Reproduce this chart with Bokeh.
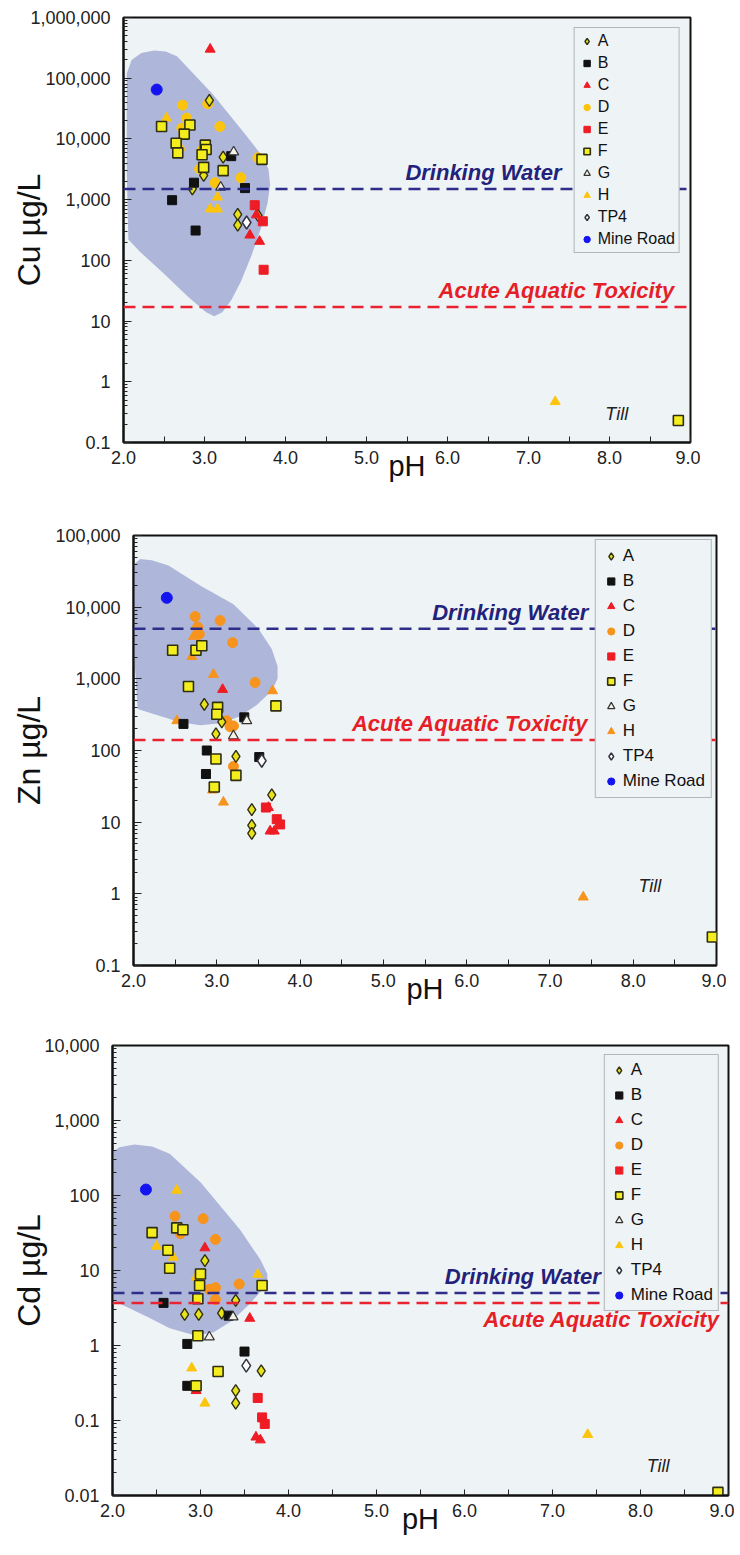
import numpy as np
from bokeh.plotting import figure
from bokeh.models import (FixedTicker, NumeralTickFormatter, CustomJSTickFormatter,
                          Span, Legend, LegendItem, Label)
from bokeh.layouts import column
from bokeh.embed import file_html
from bokeh.resources import INLINE
from bokeh.core.properties import value

FONT = "Liberation Sans"
BG = "#eef3f6"
ENV = "#aeb7da"
SERIES = ["A", "B", "C", "D", "E", "F", "G", "H", "TP4", "Mine Road"]
X_TICKS = [2.0, 2.5, 3.0, 3.5, 4.0, 4.5, 5.0, 5.5, 6.0, 6.5, 7.0, 7.5, 8.0, 8.5, 9.0]

# ---------------- Cu (µg/L) ----------------
cu_ph_A = [3.06, 2.99, 3.23, 2.85, 3.41, 3.41, 3.66]
cu_A = [43000, 2500, 5000, 1500, 570, 380, 550]
cu_ph_B = [3.33, 2.87, 3.50, 2.60, 2.89]
cu_B = [5200, 1900, 1550, 980, 310]
cu_ph_C = [3.07, 3.56, 3.68, 3.64]
cu_C = [300000, 260, 205, 560]
cu_ph_D = [3.04, 2.73, 2.78, 2.72, 3.19, 2.69, 2.97, 2.94, 3.13, 3.45, 3.66]
cu_D = [38000, 36000, 22000, 15000, 16000, 6800, 6500, 3200, 1900, 2300, 4900]
cu_ph_E = [3.62, 3.72, 3.73]
cu_E = [810, 440, 70]
cu_ph_F = [2.47, 2.82, 2.75, 2.65, 2.67, 3.01, 3.02, 2.97, 2.99, 3.23, 3.71, 8.85]
cu_F = [16000, 17000, 12000, 8500, 5900, 7900, 6700, 5500, 3400, 3000, 4600, 0.23]
cu_ph_G = [3.36, 3.20]
cu_G = [6100, 1600]
cu_ph_H = [2.53, 3.16, 3.07, 3.16, 7.33]
cu_H = [22000, 1100, 700, 700, 0.47]
cu_ph_TP4 = [3.52]
cu_TP4 = [420]
cu_ph_MR = [2.41]
cu_MR = [65000]
cu_env_ph = [2.04, 2.10, 2.22, 2.38, 2.52, 2.66, 3.10, 3.50, 3.70, 3.79, 3.81, 3.78,
             3.70, 3.58, 3.45, 3.33, 3.22, 3.12, 3.02, 2.80, 2.50, 2.20, 2.06, 2.04]
cu_env = [120000, 200000, 260000, 285000, 275000, 230000, 55000, 12000, 5500, 3200, 1800, 900,
          350, 120, 45, 22, 14, 12, 14, 25, 60, 140, 220, 3000]
cu_drinking = 1500
cu_acute = 17

# ---------------- Zn (µg/L) ----------------
zn_ph_A = [2.85, 3.06, 2.99, 3.23, 3.66, 3.42, 3.42, 3.42]
zn_A = [440, 250, 170, 83, 24, 15, 9, 7]
zn_ph_B = [2.60, 3.33, 2.88, 3.51, 2.87]
zn_B = [235, 290, 100, 81, 47]
zn_ph_C = [3.07, 3.62, 3.64, 3.69]
zn_C = [710, 16, 7.5, 7.5]
zn_ph_D = [2.74, 3.04, 2.77, 2.79, 3.19, 3.46, 3.12, 3.16, 3.20, 3.20]
zn_D = [7400, 6500, 5300, 4200, 3200, 890, 260, 215, 220, 60]
zn_ph_E = [3.59, 3.72, 3.76]
zn_E = [16, 11, 9.3]
zn_ph_F = [2.47, 2.75, 2.82, 2.66, 3.01, 3.00, 3.71, 2.99, 3.23, 2.97, 8.95]
zn_F = [2500, 2500, 2900, 780, 400, 320, 420, 76, 45, 31, 0.25]
zn_ph_G = [3.36, 3.20]
zn_G = [260, 160]
zn_ph_H = [2.72, 2.70, 2.96, 3.67, 2.52, 2.95, 3.08, 7.40]
zn_H = [3900, 2050, 1150, 680, 260, 28, 19, 0.9]
zn_ph_TP4 = [3.54]
zn_TP4 = [72]
zn_ph_MR = [2.40]
zn_MR = [13500]
zn_env_ph = [2.01, 2.08, 2.22, 2.42, 2.80, 3.20, 3.50, 3.66, 3.73, 3.73, 3.66, 3.48,
             3.28, 3.05, 2.80, 2.55, 2.25, 2.05, 2.01]
zn_env = [40000, 47000, 45000, 38000, 20000, 11000, 5000, 2600, 1500, 1000, 680, 430,
          300, 240, 225, 250, 320, 380, 2000]
zn_drinking = 5000
zn_acute = 140

# ---------------- Cd (µg/L) ----------------
cd_ph_A = [3.05, 3.40, 3.24, 2.82, 2.98, 3.69, 3.40, 3.40]
cd_A = [13.5, 4.0, 2.7, 2.6, 2.6, 0.46, 0.25, 0.17]
cd_ph_B = [2.58, 3.32, 2.85, 2.85, 3.50]
cd_B = [3.7, 2.5, 1.05, 0.29, 0.83]
cd_ph_C = [3.05, 3.56, 2.95, 3.63, 3.68]
cd_C = [20, 2.3, 0.25, 0.06, 0.055]
cd_ph_D = [2.71, 3.03, 2.77, 3.17, 3.10, 3.17, 3.44, 3.17]
cd_D = [53, 49, 31, 26, 5.6, 5.9, 6.6, 4.1]
cd_ph_E = [3.65, 3.70, 3.73]
cd_E = [0.20, 0.11, 0.09]
cd_ph_F = [2.45, 2.73, 2.80, 2.63, 2.65, 3.00, 2.99, 3.70, 2.97, 2.97, 3.20, 2.95, 8.88]
cd_F = [32, 37, 35, 18.6, 10.7, 9.0, 6.3, 6.3, 4.2, 1.35, 0.45, 0.29, 0.011]
cd_ph_G = [3.37, 3.10]
cd_G = [2.4, 1.3]
cd_ph_H = [2.73, 2.50, 2.69, 2.95, 3.65, 2.90, 3.05, 7.40]
cd_H = [117, 21, 15, 8.1, 8.9, 0.5, 0.17, 0.065]
cd_ph_TP4 = [3.52]
cd_TP4 = [0.54]
cd_ph_MR = [2.38]
cd_MR = [120]
cd_env_ph = [2.0, 2.08, 2.25, 2.45, 2.65, 3.0, 3.45, 3.68, 3.76, 3.76, 3.70, 3.55,
             3.35, 3.15, 2.95, 2.65, 2.40, 2.15, 2.0]
cd_env = [380, 440, 480, 450, 360, 150, 35, 14, 9, 7, 5.5, 3.5,
          2.1, 1.5, 1.35, 1.7, 2.4, 3.3, 4.0]
cd_drinking = 5
cd_acute = 3.7

GOLD = "#fcc50c"
ORANGE = "#f7941d"


def styles(d_col, h_col):
    return {
        "A": dict(marker="diamond", fill_color="#e8e21a", line_color="#30300f", size=12, line_width=1.4),
        "B": dict(marker="square", fill_color="#111111", line_color="#111111", size=9, line_width=1),
        "C": dict(marker="triangle", fill_color="#ee1c24", line_color="#ee1c24", size=10, line_width=1),
        "D": dict(marker="circle", fill_color=d_col, line_color=d_col, size=10, line_width=1),
        "E": dict(marker="square", fill_color="#ee1c24", line_color="#ee1c24", size=9, line_width=1),
        "F": dict(marker="square", fill_color="#f4ee1e", line_color="#2e2e12", size=10, line_width=1.6),
        "G": dict(marker="triangle", fill_color="#f3f3ea", line_color="#333333", size=10, line_width=1.2),
        "H": dict(marker="triangle", fill_color=h_col, line_color=h_col, size=10, line_width=1),
        "TP4": dict(marker="diamond", fill_color="#ffffff", line_color="#333340", size=13, line_width=1.5),
        "Mine Road": dict(marker="circle", fill_color="#1414f0", line_color="#1414f0", size=11, line_width=1),
    }


def panel(cfg):
    p = figure(frame_width=cfg["fw"], frame_height=cfg["fh"], x_range=(2, 9),
               y_range=(cfg["ylo"], cfg["yhi"]), y_axis_type="log",
               output_backend="svg", toolbar_location=None,
               min_border_left=cfg["bl"], min_border_right=cfg["br"],
               min_border_top=cfg["bt"], min_border_bottom=cfg["bb"],
               background_fill_color=BG, border_fill_color="white",
               outline_line_color="#111111", outline_line_width=2)
    p.frame_align = False
    p.grid.visible = False

    # axes
    p.xaxis.ticker = FixedTicker(ticks=X_TICKS)
    p.xaxis.formatter = CustomJSTickFormatter(
        code="return (Math.abs(tick - Math.round(tick)) < 1e-6) ? tick.toFixed(1) : '';")
    lo_e = int(round(np.log10(cfg["ylo"])))
    hi_e = int(round(np.log10(cfg["yhi"])))
    decades = [10.0 ** k for k in range(lo_e, hi_e + 1)]
    minors = [m * 10.0 ** k for k in range(lo_e, hi_e) for m in range(2, 10)]
    p.yaxis.ticker = FixedTicker(ticks=decades, minor_ticks=minors)
    p.yaxis.formatter = NumeralTickFormatter(format="0,0.[00]")
    for ax in (p.xaxis[0], p.yaxis[0]):
        ax.axis_line_color = "#111111"
        ax.axis_line_width = 2
        ax.major_tick_line_color = "#222222"
        ax.minor_tick_line_color = "#222222"
        ax.major_tick_out = 0
        ax.minor_tick_out = 0
        ax.major_label_text_font = FONT
        ax.major_label_text_font_size = "18px"
        ax.major_label_text_color = "#222222"
        ax.axis_label_text_font = FONT
        ax.axis_label_text_font_style = "normal"
        ax.axis_label_text_color = "#111111"
    p.xaxis.major_tick_in = 6
    p.xaxis.minor_tick_in = 0
    p.yaxis.major_tick_in = 8
    p.yaxis.minor_tick_in = 4
    p.xaxis.major_label_standoff = 8
    p.yaxis.major_label_standoff = 13
    p.xaxis.axis_label = "pH"
    p.xaxis.axis_label_text_font_size = "29px"
    p.xaxis.axis_label_standoff = -17
    p.yaxis.axis_label = cfg["ylabel"]
    p.yaxis.axis_label_text_font_size = "32px"
    p.yaxis.axis_label_standoff = cfg["ylab_standoff"]

    # envelope
    p.patch(cfg["env_x"], cfg["env_y"], fill_color=ENV, fill_alpha=1.0, line_color=None)

    # guideline lines
    p.add_layout(Span(location=cfg["dw"], dimension="width", line_color="#2e2e8a",
                      line_dash="12 7", line_width=2.5))
    p.add_layout(Span(location=cfg["acute"], dimension="width", line_color="#ea2330",
                      line_dash="12 7", line_width=2.5))

    # points
    st = styles(cfg["d_col"], cfg["h_col"])
    rends = {}
    order = ["D", "H", "A", "B", "C", "E", "F", "G", "TP4", "Mine Road"]
    for name in order:
        xs, ys = cfg["data"][name]
        rends[name] = p.scatter(xs, ys, **st[name])

    p.text(x=[cfg["till"][0]], y=[cfg["till"][1]], text=["Till"], text_color="#222222",
           text_font=value(FONT), text_font_size="18px", text_font_style="italic",
           text_align="center", text_baseline="middle")

    legend = Legend(items=[LegendItem(label=n, renderers=[rends[n]]) for n in SERIES],
                    location="top_right", margin=cfg["lmargin"], padding=cfg["lpad"],
                    spacing=cfg["lspacing"], glyph_width=cfg["lglyph"], glyph_height=18,
                    label_height=18, label_standoff=3,
                    label_text_font=FONT, label_text_font_size=cfg["lfont"],
                    label_text_color="#111111",
                    border_line_color="#7a7a7a", border_line_width=1.5,
                    background_fill_color=BG, background_fill_alpha=1.0)
    p.add_layout(legend)

    # guideline labels
    for (tx, ty, txt, col, align, base, yoff) in cfg["texts"]:
        p.add_layout(Label(x=tx, y=ty, x_units="data", y_units="data", text=txt,
                           text_color=col, text_font=FONT, text_font_size="22px",
                           text_font_style="bold italic", text_align=align,
                           text_baseline=base, y_offset=yoff))
    return p


cfg_cu = dict(
    fw=567, fh=425, bl=123, br=10, bt=17, bb=55, ylo=0.1, yhi=1e6,
    ylabel="Cu µg/L", ylab_standoff=-20,
    env_x=cu_env_ph, env_y=cu_env, dw=cu_drinking, acute=cu_acute,
    texts=[(5.48, cu_drinking, "Drinking Water", "#22227a", "left", "bottom", 4),
           (5.89, cu_acute, "Acute Aquatic Toxicity", "#e61e28", "left", "bottom", 4)],
    till=(8.09, 0.3), d_col=GOLD, h_col=GOLD,
    data={"A": (cu_ph_A, cu_A), "B": (cu_ph_B, cu_B), "C": (cu_ph_C, cu_C),
          "D": (cu_ph_D, cu_D), "E": (cu_ph_E, cu_E), "F": (cu_ph_F, cu_F),
          "G": (cu_ph_G, cu_G), "H": (cu_ph_H, cu_H), "TP4": (cu_ph_TP4, cu_TP4),
          "Mine Road": (cu_ph_MR, cu_MR)},
    lmargin=10, lpad=4, lglyph=16, lspacing=4, lfont="16px")

cfg_zn = dict(
    fw=583, fh=430, bl=133, br=10, bt=38, bb=45, ylo=0.1, yhi=1e5,
    ylabel="Zn µg/L", ylab_standoff=5,
    env_x=zn_env_ph, env_y=zn_env, dw=zn_drinking, acute=zn_acute,
    texts=[(7.46, zn_drinking, "Drinking Water", "#22227a", "right", "bottom", 4),
           (7.46, zn_acute, "Acute Aquatic Toxicity", "#e61e28", "right", "bottom", 4)],
    till=(8.2, 1.3), d_col=ORANGE, h_col=ORANGE,
    data={"A": (zn_ph_A, zn_A), "B": (zn_ph_B, zn_B), "C": (zn_ph_C, zn_C),
          "D": (zn_ph_D, zn_D), "E": (zn_ph_E, zn_E), "F": (zn_ph_F, zn_F),
          "G": (zn_ph_G, zn_G), "H": (zn_ph_H, zn_H), "TP4": (zn_ph_TP4, zn_TP4),
          "Mine Road": (zn_ph_MR, zn_MR)},
    lmargin=4, lpad=6, lglyph=18, lspacing=5, lfont="17px")

cfg_cd = dict(
    fw=616, fh=450, bl=112, br=6, bt=35, bb=45, ylo=0.01, yhi=1e4,
    ylabel="Cd µg/L", ylab_standoff=-6,
    env_x=cd_env_ph, env_y=cd_env, dw=cd_drinking, acute=cd_acute,
    texts=[(7.55, cd_drinking, "Drinking Water", "#22227a", "right", "bottom", 4),
           (8.9, cd_acute, "Acute Aquatic Toxicity", "#e61e28", "right", "top", -4)],
    till=(8.2, 0.025), d_col=ORANGE, h_col=GOLD,
    data={"A": (cd_ph_A, cd_A), "B": (cd_ph_B, cd_B), "C": (cd_ph_C, cd_C),
          "D": (cd_ph_D, cd_D), "E": (cd_ph_E, cd_E), "F": (cd_ph_F, cd_F),
          "G": (cd_ph_G, cd_G), "H": (cd_ph_H, cd_H), "TP4": (cd_ph_TP4, cd_TP4),
          "Mine Road": (cd_ph_MR, cd_MR)},
    lmargin=9, lpad=5, lglyph=18, lspacing=5, lfont="17px")

layout = column(panel(cfg_cu), panel(cfg_zn), panel(cfg_cd))
open("out.html", "w").write(file_html(layout, INLINE))
